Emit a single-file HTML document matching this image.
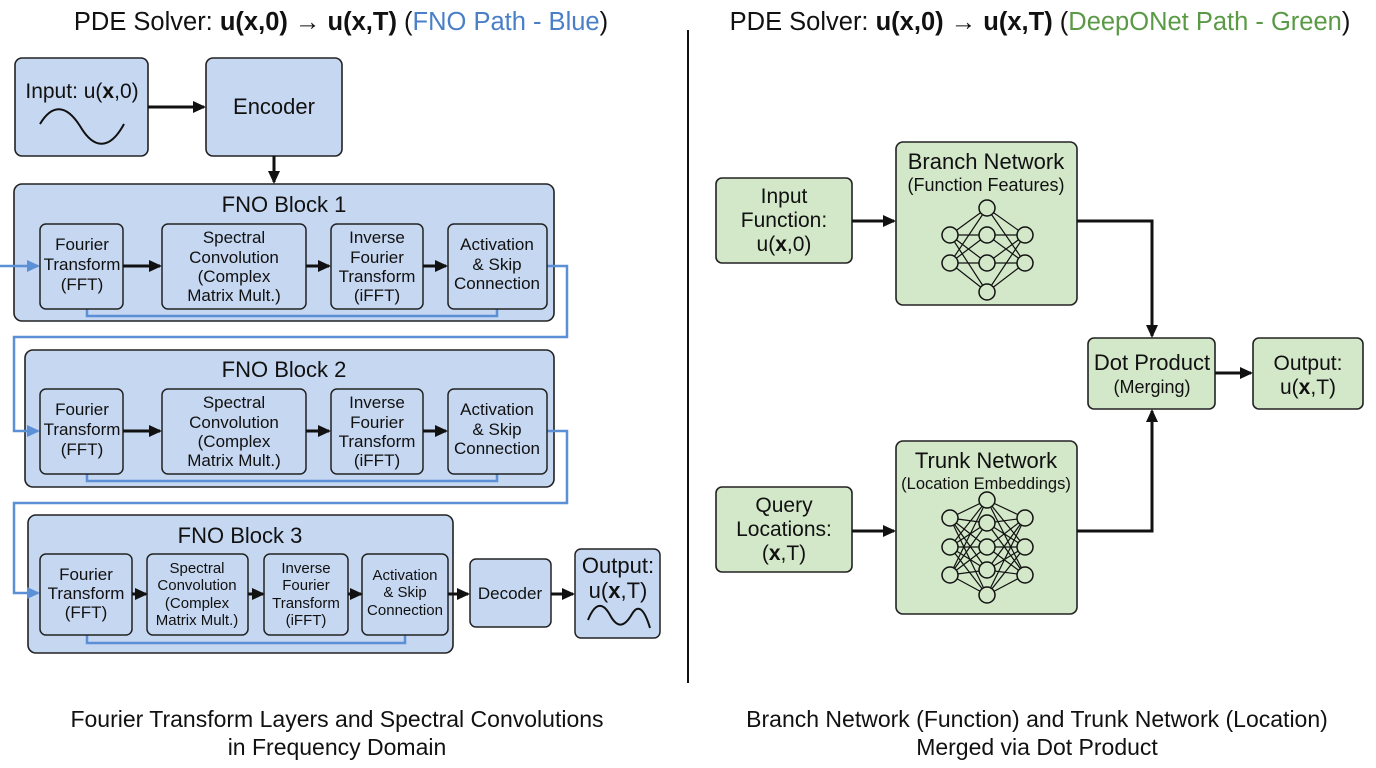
<!DOCTYPE html>
<html><head><meta charset="utf-8"><style>
html,body{margin:0;padding:0;background:#fff}
svg{display:block}
text{font-family:"Liberation Sans",sans-serif;fill:#111}
</style></head><body>
<svg width="1376" height="768" viewBox="0 0 1376 768" xmlns="http://www.w3.org/2000/svg">
<defs>
<marker id="ak" markerWidth="13" markerHeight="12" refX="11" refY="6" orient="auto" markerUnits="userSpaceOnUse"><path d="M0,0 L13,6 L0,12 z" fill="#111"/></marker>
<marker id="ab" markerWidth="13" markerHeight="12" refX="11" refY="6" orient="auto" markerUnits="userSpaceOnUse"><path d="M0,0 L13,6 L0,12 z" fill="#5b8fd6"/></marker>
</defs>
<rect width="1376" height="768" fill="#fff"/>

<text x="341" y="30" font-size="25.5" text-anchor="middle">PDE Solver: <tspan font-weight="bold">u(x,0)</tspan> → <tspan font-weight="bold">u(x,T)</tspan> (<tspan style="fill:#4a7fc7">FNO Path - Blue</tspan>)</text>
<text x="1040" y="30" font-size="25.5" text-anchor="middle">PDE Solver: <tspan font-weight="bold">u(x,0)</tspan> → <tspan font-weight="bold">u(x,T)</tspan> (<tspan style="fill:#5a9a46">DeepONet Path - Green</tspan>)</text>
<line x1="688" y1="30" x2="688" y2="683" stroke="#111" stroke-width="2"/>

<text x="337" y="727" font-size="23" text-anchor="middle">Fourier Transform Layers and Spectral Convolutions</text>
<text x="337" y="755" font-size="23" text-anchor="middle">in Frequency Domain</text>
<text x="1037" y="727" font-size="23" text-anchor="middle">Branch Network (Function) and Trunk Network (Location)</text>
<text x="1037" y="755" font-size="23" text-anchor="middle">Merged via Dot Product</text>

<g fill="#c6d7f1" stroke="#222" stroke-width="1.6">
<rect x="15" y="58" width="133" height="98" rx="7"/>
<rect x="206" y="58" width="136" height="98" rx="7"/>
<rect x="14" y="184" width="540" height="137" rx="8"/>
<rect x="25" y="350" width="529" height="137" rx="8"/>
<rect x="28" y="515" width="425" height="138" rx="8"/>
</g>
<text x="82" y="98" font-size="21" text-anchor="middle">Input: u(<tspan font-weight="bold">x</tspan>,0)</text>
<path d="M40,124 C52,104 66,104 80,126 C94,150 110,150 124,124" fill="none" stroke="#111" stroke-width="2"/>
<text x="274" y="114" font-size="22" text-anchor="middle">Encoder</text>
<line x1="148" y1="107" x2="204" y2="107" stroke="#111" stroke-width="3" marker-end="url(#ak)"/>
<line x1="274" y1="156" x2="274" y2="182" stroke="#111" stroke-width="3" marker-end="url(#ak)"/>

<g fill="none" stroke="#5b8fd6" stroke-width="2.5">
<path d="M0,266 L38,266" marker-end="url(#ab)"/>
<path d="M547,266 L567,266 L567,337 L14,337 L14,431 L38,431" marker-end="url(#ab)"/>
<path d="M547,431 L567,431 L567,503 L14,503 L14,593 L38,593" marker-end="url(#ab)"/>
<path d="M87,309 L87,316 L497,316 L497,309"/>
<path d="M87,474 L87,481 L497,481 L497,474"/>
<path d="M87,635 L87,643 L405,643 L405,635"/>
</g>

<text x="284" y="212" font-size="22" text-anchor="middle">FNO Block 1</text>
<text x="284" y="377" font-size="22" text-anchor="middle">FNO Block 2</text>
<text x="240" y="543" font-size="22" text-anchor="middle">FNO Block 3</text>

<g fill="#c6d7f1" stroke="#222" stroke-width="1.5">
<rect x="40" y="224" width="83" height="85" rx="6"/>
<rect x="162" y="224" width="144" height="85" rx="6"/>
<rect x="331" y="224" width="92" height="85" rx="6"/>
<rect x="448" y="224" width="99" height="85" rx="6"/>
<rect x="40" y="389" width="83" height="85" rx="6"/>
<rect x="162" y="389" width="144" height="85" rx="6"/>
<rect x="331" y="389" width="92" height="85" rx="6"/>
<rect x="448" y="389" width="99" height="85" rx="6"/>
<rect x="40" y="554" width="92" height="81" rx="6"/>
<rect x="147" y="554" width="101" height="81" rx="6"/>
<rect x="264" y="554" width="84" height="81" rx="6"/>
<rect x="362" y="554" width="86" height="81" rx="6"/>
<rect x="470" y="559" width="81" height="68" rx="6"/>
<rect x="575" y="549" width="85" height="89" rx="6"/>
</g>
<g stroke="#111" stroke-width="3">
<line x1="123" y1="266" x2="160" y2="266" marker-end="url(#ak)"/>
<line x1="306" y1="266" x2="329" y2="266" marker-end="url(#ak)"/>
<line x1="423" y1="266" x2="446" y2="266" marker-end="url(#ak)"/>
<line x1="123" y1="431" x2="160" y2="431" marker-end="url(#ak)"/>
<line x1="306" y1="431" x2="329" y2="431" marker-end="url(#ak)"/>
<line x1="423" y1="431" x2="446" y2="431" marker-end="url(#ak)"/>
<line x1="132" y1="594" x2="146" y2="594" marker-end="url(#ak)"/>
<line x1="248" y1="594" x2="263" y2="594" marker-end="url(#ak)"/>
<line x1="348" y1="594" x2="361" y2="594" marker-end="url(#ak)"/>
<line x1="448" y1="594" x2="468" y2="594" marker-end="url(#ak)"/>
<line x1="551" y1="594" x2="573" y2="594" marker-end="url(#ak)"/>
</g>

<g font-size="17" text-anchor="middle">
<text x="82" y="250">Fourier</text><text x="82" y="270">Transform</text><text x="82" y="290">(FFT)</text>
<text x="234" y="243">Spectral</text><text x="234" y="263">Convolution</text><text x="234" y="282">(Complex</text><text x="234" y="301">Matrix Mult.)</text>
<text x="377" y="243">Inverse</text><text x="377" y="263">Fourier</text><text x="377" y="282">Transform</text><text x="377" y="301">(iFFT)</text>
<text x="497" y="250">Activation</text><text x="497" y="270">&amp; Skip</text><text x="497" y="289">Connection</text>

<text x="82" y="415">Fourier</text><text x="82" y="435">Transform</text><text x="82" y="455">(FFT)</text>
<text x="234" y="408">Spectral</text><text x="234" y="428">Convolution</text><text x="234" y="447">(Complex</text><text x="234" y="466">Matrix Mult.)</text>
<text x="377" y="408">Inverse</text><text x="377" y="428">Fourier</text><text x="377" y="447">Transform</text><text x="377" y="466">(iFFT)</text>
<text x="497" y="415">Activation</text><text x="497" y="435">&amp; Skip</text><text x="497" y="454">Connection</text>

<text x="86" y="580">Fourier</text><text x="86" y="599">Transform</text><text x="86" y="618">(FFT)</text>
</g>
<g font-size="15" text-anchor="middle">
<text x="197" y="573">Spectral</text><text x="197" y="590">Convolution</text><text x="197" y="608">(Complex</text><text x="197" y="625">Matrix Mult.)</text>
<text x="306" y="573">Inverse</text><text x="306" y="590">Fourier</text><text x="306" y="608">Transform</text><text x="306" y="625">(iFFT)</text>
<text x="405" y="580">Activation</text><text x="405" y="597">&amp; Skip</text><text x="405" y="615">Connection</text>
</g>
<text x="510" y="599" font-size="17" text-anchor="middle">Decoder</text>
<text x="618" y="573" font-size="22" text-anchor="middle">Output:</text>
<text x="618" y="598" font-size="22" text-anchor="middle">u(<tspan font-weight="bold">x</tspan>,T)</text>
<path d="M588,620 C596,600 604,604 610,615 C617,628 624,628 632,614 C638,604 644,608 650,628" fill="none" stroke="#111" stroke-width="2"/>

<g fill="#d3e7c9" stroke="#222" stroke-width="1.6">
<rect x="716" y="178" width="136" height="85" rx="6"/>
<rect x="896" y="142" width="181" height="163" rx="7"/>
<rect x="1088" y="338" width="127" height="71" rx="6"/>
<rect x="1253" y="338" width="110" height="71" rx="6"/>
<rect x="716" y="487" width="136" height="85" rx="6"/>
<rect x="896" y="441" width="181" height="173" rx="7"/>
</g>
<g font-size="21" text-anchor="middle">
<text x="784" y="203">Input</text><text x="784" y="227">Function:</text><text x="784" y="251">u(<tspan font-weight="bold">x</tspan>,0)</text>
<text x="784" y="512">Query</text><text x="784" y="536">Locations:</text><text x="784" y="560">(<tspan font-weight="bold">x</tspan>,T)</text>
<text x="1308" y="370">Output:</text><text x="1308" y="394">u(<tspan font-weight="bold">x</tspan>,T)</text>
</g>
<g font-size="22" text-anchor="middle">
<text x="986" y="169">Branch Network</text>
<text x="986" y="468">Trunk Network</text>
<text x="1152" y="370">Dot Product</text>
</g>
<g font-size="18" text-anchor="middle">
<text x="986" y="191">(Function Features)</text>
<text x="986" y="489" font-size="16.5">(Location Embeddings)</text>
<text x="1152" y="393">(Merging)</text>
</g>
<g stroke="#111" stroke-width="3" fill="none">
<line x1="852" y1="221" x2="894" y2="221" marker-end="url(#ak)"/>
<line x1="852" y1="531" x2="894" y2="531" marker-end="url(#ak)"/>
<path d="M1077,221 L1152,221 L1152,336" marker-end="url(#ak)"/>
<path d="M1077,531 L1152,531 L1152,411" marker-end="url(#ak)"/>
<line x1="1215" y1="373" x2="1251" y2="373" marker-end="url(#ak)"/>
</g>

<g stroke="#111" stroke-width="1.2">
<path d="M950,235 L987,208 M950,235 L987,235 M950,235 L987,263 M950,235 L987,292 M950,263 L987,208 M950,263 L987,235 M950,263 L987,263 M950,263 L987,292
M987,208 L1025,235 M987,208 L1025,263 M987,235 L1025,235 M987,235 L1025,263 M987,263 L1025,235 M987,263 L1025,263 M987,292 L1025,235 M987,292 L1025,263"/>
</g>
<g fill="#d3e7c9" stroke="#111" stroke-width="1.5">
<circle cx="950" cy="235" r="8"/><circle cx="950" cy="263" r="8"/>
<circle cx="987" cy="208" r="8"/><circle cx="987" cy="235" r="8"/><circle cx="987" cy="263" r="8"/><circle cx="987" cy="292" r="8"/>
<circle cx="1025" cy="235" r="8"/><circle cx="1025" cy="263" r="8"/>
</g>
<g stroke="#111" stroke-width="1.2">
<path d="M950,518 L987,500 M950,518 L987,523 M950,518 L987,547 M950,518 L987,570 M950,518 L987,595
M950,547 L987,500 M950,547 L987,523 M950,547 L987,547 M950,547 L987,570 M950,547 L987,595
M950,575 L987,500 M950,575 L987,523 M950,575 L987,547 M950,575 L987,570 M950,575 L987,595
M1025,518 L987,500 M1025,518 L987,523 M1025,518 L987,547 M1025,518 L987,570 M1025,518 L987,595
M1025,547 L987,500 M1025,547 L987,523 M1025,547 L987,547 M1025,547 L987,570 M1025,547 L987,595
M1025,575 L987,500 M1025,575 L987,523 M1025,575 L987,547 M1025,575 L987,570 M1025,575 L987,595"/>
</g>
<g fill="#d3e7c9" stroke="#111" stroke-width="1.5">
<circle cx="950" cy="518" r="8"/><circle cx="950" cy="547" r="8"/><circle cx="950" cy="575" r="8"/>
<circle cx="987" cy="500" r="8"/><circle cx="987" cy="523" r="8"/><circle cx="987" cy="547" r="8"/><circle cx="987" cy="570" r="8"/><circle cx="987" cy="595" r="8"/>
<circle cx="1025" cy="518" r="8"/><circle cx="1025" cy="547" r="8"/><circle cx="1025" cy="575" r="8"/>
</g>
</svg>
</body></html>
